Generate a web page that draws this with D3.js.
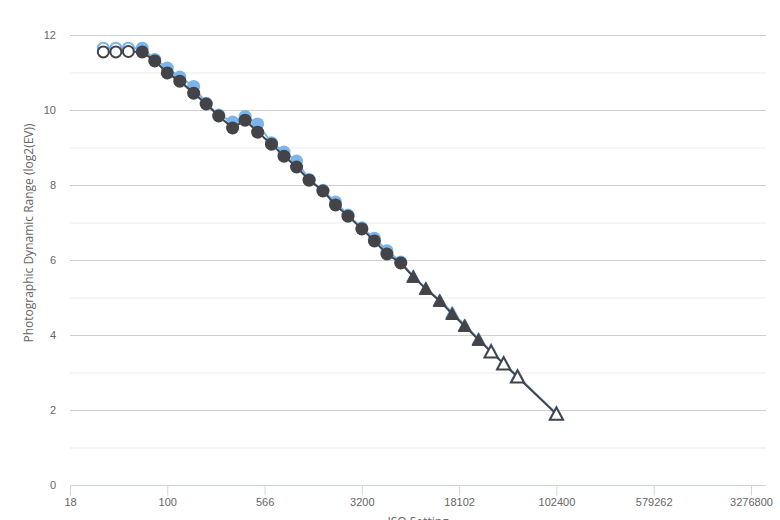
<!DOCTYPE html>
<html>
<head>
<meta charset="utf-8">
<script src="https://cdn.jsdelivr.net/npm/d3@7"></script>
<style>
  html, body { margin: 0; padding: 0; background: #fff; }
  svg { display: block; font-family: "Open Sans", Lato, sans-serif; }
</style>
</head>
<body>
<svg id="chart" width="780" height="520"></svg>
<script>
// ISO settings (1/3 stop steps)
const isoValues = [32, 40, 50, 64, 80, 100, 125, 160, 200, 250, 320, 400, 500, 640, 800, 1000, 1250, 1600, 2000, 2500, 3200, 4000, 5000, 6400, 8000, 10000, 12800, 16000, 20000, 25600, 32000, 40000, 51200, 102400];
// Point status: extended (open), normal, noise-reduction (triangle), extended + NR (open triangle)
const pointKinds = ["open-circle","open-circle","open-circle","circle","circle","circle","circle","circle","circle","circle","circle","circle","circle","circle","circle","circle","circle","circle","circle","circle","circle","circle","circle","circle","triangle","triangle","triangle","triangle","triangle","triangle","open-triangle","open-triangle","open-triangle","open-triangle"];
// Series A (blue)
const seriesBlue = [11.65, 11.65, 11.65, 11.65, 11.35, 11.12, 10.88, 10.63, 10.18, 9.87, 9.68, 9.83, 9.63, 9.13, 8.88, 8.64, 8.15, 7.86, 7.55, 7.2, 6.86, 6.58, 6.25, 5.95, 5.57, 5.25, 4.93, 4.6, 4.26, 3.9, 3.57, 3.25, 2.9, 1.91];
// Series B (dark)
const seriesDark = [11.55, 11.55, 11.56, 11.55, 11.31, 10.99, 10.77, 10.45, 10.16, 9.84, 9.52, 9.73, 9.41, 9.09, 8.77, 8.48, 8.13, 7.84, 7.47, 7.17, 6.83, 6.51, 6.16, 5.92, 5.55, 5.23, 4.91, 4.56, 4.24, 3.87, 3.55, 3.23, 2.88, 1.89];
// Axis ticks
const xTickValues = [17.678, 100, 565.69, 3200, 18101.9, 102400, 579262, 3276800];
const xTickLabels = ["18", "100", "566", "3200", "18102", "102400", "579262", "3276800"];
const yTickValues = [0, 2, 4, 6, 8, 10, 12];
const yGridValues = [0,1,2,3,4,5,6,7,8,9,10,11,12];

const svg = d3.select("#chart");
const plotLeft = 70, plotRight = 766, plotTop = 35, plotBottom = 485;

const x = d3.scaleLog().base(2).domain([17.678, 4280000]).range([plotLeft, plotRight]);
const y = d3.scaleLinear().domain([0, 12]).range([plotBottom, plotTop]);

// gridlines
svg.append("g").selectAll("line").data(yGridValues.filter(v => v > 0)).join("line")
  .attr("x1", plotLeft).attr("x2", plotRight)
  .attr("y1", d => y(d) + 0.5).attr("y2", d => y(d) + 0.5)
  .attr("stroke", d => d % 2 === 0 ? "#cfcfcf" : "#ebebeb")
  .attr("stroke-width", 1);

// x axis
const xAxis = d3.axisBottom(x).tickValues(xTickValues)
  .tickFormat((d, i) => xTickLabels[i]).tickSize(10).tickPadding(3);
const gx = svg.append("g").attr("transform", `translate(0,${plotBottom + 0.5})`).call(xAxis);
gx.select(".domain").attr("stroke", "#ccd6eb").attr("d", `M${plotLeft},0H${plotRight}`);
gx.selectAll(".tick line").attr("stroke", "#ccd6eb");
gx.selectAll(".tick text").attr("fill", "#666").style("font-size", "11px");

// y axis labels
const yAxis = d3.axisLeft(y).tickValues(yTickValues).tickSize(0).tickPadding(14);
const gy = svg.append("g").attr("transform", `translate(${plotLeft},0)`).call(yAxis);
gy.select(".domain").remove();
gy.selectAll(".tick text").attr("fill", "#666").style("font-size", "11px");

// axis titles
svg.append("text").attr("transform", `translate(33,233) rotate(-90)`)
  .attr("text-anchor", "middle").attr("fill", "#666").style("font-size", "12px")
  .text("Photographic Dynamic Range (log2(EV))");
svg.append("text").attr("x", 418).attr("y", 526)
  .attr("text-anchor", "middle").attr("fill", "#666").style("font-size", "12px")
  .text("ISO Setting");

function drawSeries(values, color) {
  const pts = isoValues.map((iso, i) => ({ iso, v: values[i], kind: pointKinds[i] }));
  const line = d3.line().x(d => x(d.iso)).y(d => y(d.v));
  svg.append("path").datum(pts).attr("d", line)
    .attr("fill", "none").attr("stroke", color).attr("stroke-width", 2);
  const g = svg.append("g");
  pts.forEach(p => {
    const cx = x(p.iso), cy = y(p.v);
    const open = p.kind.startsWith("open");
    if (p.kind.endsWith("circle")) {
      g.append("circle").attr("cx", cx).attr("cy", cy).attr("r", open ? 5.5 : 6.5)
        .attr("fill", open ? "#fff" : color)
        .attr("stroke", open ? color : "none").attr("stroke-width", 2);
    } else {
      const r = 6.5;
      g.append("path")
        .attr("d", `M${cx},${cy - r}L${cx + r},${cy + r - 1}L${cx - r},${cy + r - 1}Z`)
        .attr("fill", open ? "#fff" : color)
        .attr("stroke", color).attr("stroke-width", open ? 2 : 1)
        .attr("stroke-linejoin", "miter");
    }
  });
}

drawSeries(seriesBlue, "#7cb5ec");
drawSeries(seriesDark, "#434348");
</script>
</body>
</html>
